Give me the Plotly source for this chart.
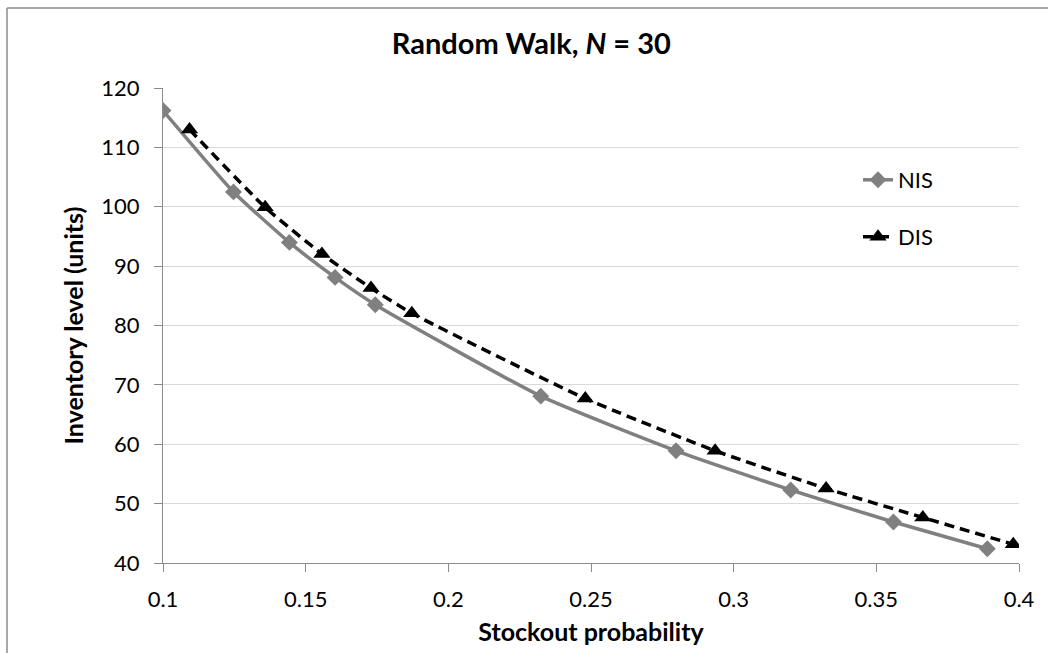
import plotly.graph_objects as go

nis_x = [0.1, 0.1247, 0.1443, 0.1603, 0.1744, 0.2324, 0.2798, 0.32, 0.356, 0.3889]
nis_y = [116.2, 102.5, 94.0, 88.1, 83.5, 68.1, 58.9, 52.3, 46.9, 42.4]
dis_x = [0.1093, 0.1358, 0.1557, 0.1729, 0.1872, 0.248, 0.2935, 0.3324, 0.3663, 0.398]
dis_y = [113.0, 99.9, 92.05, 86.3, 82.06, 67.7, 58.9, 52.55, 47.66, 43.15]
x_ticks = [0.1, 0.15, 0.2, 0.25, 0.3, 0.35, 0.4]
x_tick_labels = ["0.1", "0.15", "0.2", "0.25", "0.3", "0.35", "0.4"]
y_ticks = [40, 50, 60, 70, 80, 90, 100, 110, 120]

FONT = "Lato"

fig = go.Figure()
fig.add_trace(go.Scatter(
    x=nis_x, y=nis_y, name="NIS", mode="lines+markers",
    line=dict(color="#808080", width=3.5, shape="spline", smoothing=0.5),
    marker=dict(symbol="diamond", size=13, color="#808080"),
    legend="legend",
))
fig.add_trace(go.Scatter(
    x=dis_x, y=dis_y, name="DIS", mode="lines+markers",
    line=dict(color="#000000", width=3.5, dash="10px,6px", shape="spline", smoothing=0.5),
    marker=dict(symbol="triangle-up", size=15, color="#000000"),
    legend="legend2",
))

L, R, T, B = 163, 29, 88, 90
W, H = 1048, 653
pw, ph = W - L - R, H - T - B

def px_x(p):
    return (p - L) / pw

def px_y(p):
    return (H - B - p) / ph

border = "#8c8c8c"
shapes = [
    dict(type="line", xref="paper", yref="paper", x0=px_x(7), x1=px_x(7), y0=px_y(8), y1=px_y(700),
         line=dict(color=border, width=1.5)),
    dict(type="line", xref="paper", yref="paper", x0=px_x(7), x1=px_x(1100), y0=px_y(8), y1=px_y(8),
         line=dict(color=border, width=1.5)),
]

fig.update_layout(
    template="none",
    width=W, height=H,
    margin=dict(l=L, r=R, t=T, b=B, pad=0),
    paper_bgcolor="white", plot_bgcolor="white",
    font=dict(family=FONT, size=22, color="black"),
    title=dict(text="<b>Random Walk, <i>N</i> = 30</b>", xref="container", x=0.507, xanchor="center",
               yref="container", y=1 - 44 / H, yanchor="middle", font=dict(size=29, family=FONT)),
    showlegend=True,
    legend=dict(x=px_x(858), y=px_y(180), xanchor="left", yanchor="middle",
                font=dict(size=22, family=FONT), bgcolor="rgba(0,0,0,0)", borderwidth=0),
    legend2=dict(x=px_x(858), y=px_y(237), xanchor="left", yanchor="middle",
                 font=dict(size=22, family=FONT), bgcolor="rgba(0,0,0,0)", borderwidth=0),
    shapes=shapes,
)
fig.update_xaxes(
    range=[0.1, 0.4], tickvals=x_ticks, ticktext=x_tick_labels, automargin=False,
    showgrid=False, zeroline=False, showline=True, linecolor="#8c8c8c", linewidth=1.3,
    ticks="outside", ticklen=8, tickcolor="#8c8c8c", tickwidth=1.3,
    tickfont=dict(size=22, family=FONT), ticklabelstandoff=8,
    title=dict(text="<b>Stockout probability</b>", font=dict(size=25, family=FONT), standoff=12),
)
fig.update_yaxes(
    range=[40, 120], tickvals=y_ticks, automargin=False,
    showgrid=True, gridcolor="#d9d9d9", gridwidth=1.3, zeroline=False,
    showline=True, linecolor="#8c8c8c", linewidth=1.3,
    ticks="outside", ticklen=8, tickcolor="#8c8c8c", tickwidth=1.3,
    tickfont=dict(size=22, family=FONT), ticklabelstandoff=10,
    title=dict(text="<b>Inventory level (units)</b>", font=dict(size=25, family=FONT), standoff=10),
)

fig.write_html("out.html", config={"displayModeBar": False},
               post_script="document.body.style.margin='0';")
